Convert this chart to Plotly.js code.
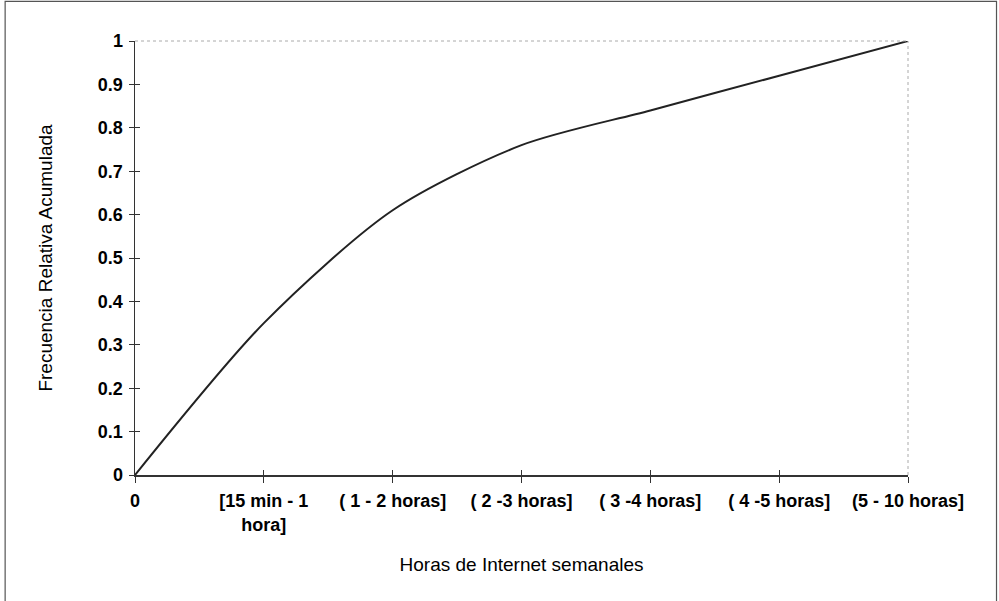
<!DOCTYPE html>
<html>
<head>
<meta charset="utf-8">
<script src="https://cdn.plot.ly/plotly-3.0.1.min.js"></script>
<style>
html,body{margin:0;padding:0;background:#fff;}
#chart{width:999px;height:601px;}
</style>
</head>
<body>
<div id="chart"></div>
<script>
var categories = ["0", "[15 min - 1<br>hora]", "( 1 - 2 horas]", "( 2 -3 horas]", "( 3 -4 horas]", "( 4 -5 horas]", "(5 - 10 horas]"];
var frecAcumulada = [0, 0.35, 0.61, 0.76, 0.84, 0.92, 1];
var yTickVals = [0, 0.1, 0.2, 0.3, 0.4, 0.5, 0.6, 0.7, 0.8, 0.9, 1];
var yTickText = ["0", "0.1", "0.2", "0.3", "0.4", "0.5", "0.6", "0.7", "0.8", "0.9", "1"];

var tickFont = {family: "Liberation Sans, Arial, sans-serif", size: 18, color: "#000", weight: "bold"};
var titleFont = {family: "Liberation Sans, Arial, sans-serif", size: 19, color: "#000", weight: "normal"};

var traces = [
  {
    x: categories, y: frecAcumulada, type: "scatter", mode: "lines",
    line: {color: "#222", width: 2, shape: "spline", smoothing: 0.8},
    hoverinfo: "skip", cliponaxis: false
  },
  {
    x: categories, y: frecAcumulada, type: "scatter", mode: "lines",
    xaxis: "x2", yaxis: "y2", line: {color: "rgba(0,0,0,0)", width: 1},
    hoverinfo: "skip", showlegend: false
  }
];

var layout = {
  width: 999, height: 601,
  margin: {l: 135, r: 91, t: 41, b: 126},
  paper_bgcolor: "#fff", plot_bgcolor: "#fff",
  showlegend: false,
  font: {family: "Liberation Sans, Arial, sans-serif", size: 16, color: "#000", weight: "normal"},
  xaxis: {
    type: "category", categoryorder: "array", categoryarray: categories,
    range: [0, 6], showgrid: false, zeroline: false,
    showline: true, linecolor: "#333", linewidth: 1.5,
    ticks: "outside", ticklen: 6, tickcolor: "#333", tickwidth: 1,
    tickfont: tickFont, ticklabelstandoff: 3,
    title: {text: "Horas de Internet semanales", font: titleFont, standoff: 24}
  },
  yaxis: {
    range: [0, 1], tickvals: yTickVals, ticktext: yTickText,
    showgrid: false, zeroline: false,
    showline: true, linecolor: "#333", linewidth: 1.5,
    ticks: "outside", ticklen: 5, tickcolor: "#333", tickwidth: 1,
    tickfont: tickFont, ticklabelstandoff: 2,
    title: {text: "Frecuencia Relativa Acumulada", font: titleFont, standoff: 40}
  },
  xaxis2: {
    type: "category", categoryorder: "array", categoryarray: categories,
    overlaying: "x", anchor: "y2", side: "bottom", range: [0, 6],
    showgrid: false, zeroline: false, showline: false,
    ticks: "inside", ticklen: 5, tickcolor: "#333", tickwidth: 1,
    showticklabels: false
  },
  yaxis2: {
    overlaying: "y", anchor: "x2", side: "left", range: [0, 1], tickvals: yTickVals,
    showgrid: false, zeroline: false, showline: false,
    ticks: "inside", ticklen: 5, tickcolor: "#333", tickwidth: 1,
    showticklabels: false
  },
  shapes: [
    {type: "line", xref: "paper", yref: "paper", x0: 0, x1: 1, y0: 1, y1: 1,
     line: {color: "#aaa", width: 1, dash: "dot"}},
    {type: "line", xref: "paper", yref: "paper", x0: 1, x1: 1, y0: 0, y1: 1,
     line: {color: "#aaa", width: 1, dash: "dot"}},
    {type: "rect", xref: "paper", yref: "paper", x0: -0.168, x1: 1.1145, y0: -0.32, y1: 1.0915,
     line: {color: "#555", width: 1.2}, fillcolor: "rgba(0,0,0,0)"}
  ]
};

Plotly.newPlot("chart", traces, layout, {staticPlot: true, displayModeBar: false});
</script>
</body>
</html>
